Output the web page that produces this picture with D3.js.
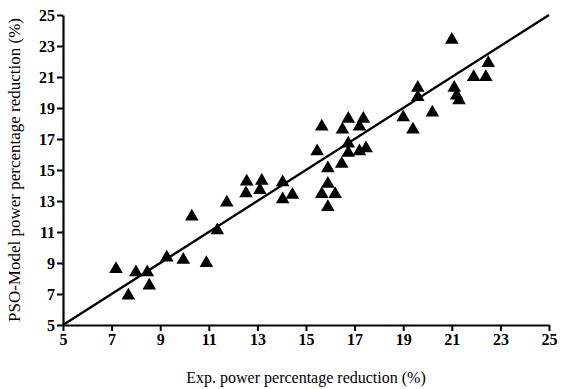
<!DOCTYPE html>
<html><head><meta charset="utf-8">
<script src="https://cdn.jsdelivr.net/npm/d3@7"></script>
<style>body{margin:0;background:#fff}svg{display:block}</style>
</head><body>
<svg id="c" width="568" height="389"></svg>
<script>
const expValues = [7.18,8.0,8.47,8.55,7.69,9.27,9.95,10.9,10.3,11.35,11.74,
  12.56,13.18,14.04,12.53,13.1,14.04,14.44,
  15.46,15.65,16.5,16.74,17.2,17.36,16.74,16.74,17.2,17.47,15.9,16.47,15.9,15.65,16.2,15.9,
  19.0,19.4,19.6,19.6,20.2,21.0,22.5,21.9,22.4,21.1,21.2,21.3];
const psoValues = [8.6,8.4,8.4,7.55,6.9,9.35,9.2,9.0,12.0,11.1,12.9,
  14.25,14.3,14.2,13.5,13.7,13.1,13.4,
  16.2,17.8,17.6,18.3,17.8,18.3,16.7,16.1,16.2,16.4,15.1,15.4,14.1,13.45,13.45,12.6,
  18.4,17.6,20.3,19.7,18.7,23.4,21.9,21.0,21.0,20.3,19.8,19.5];
const tickValues = [5,7,9,11,13,15,17,19,21,23,25];
const fitLine = [[5,5],[25,25]];

const svg = d3.select("#c");
const x = d3.scaleLinear().domain([5,25]).range([63,549]);
const y = d3.scaleLinear().domain([5,25]).range([325,15]);
const font = "'Liberation Serif','Times New Roman',serif";

const xa = svg.append("g").attr("transform","translate(0,325)")
  .call(d3.axisBottom(x).tickValues(tickValues).tickSize(6).tickPadding(3).tickSizeOuter(0));
const ya = svg.append("g").attr("transform","translate(63,0)")
  .call(d3.axisLeft(y).tickValues(tickValues).tickSize(6).tickPadding(2).tickSizeOuter(0));
[xa,ya].forEach(a=>{
  a.select(".domain").attr("stroke","#000").attr("stroke-width",2.2);
  a.selectAll(".tick line").attr("stroke","#000").attr("stroke-width",2);
  a.selectAll("text").attr("font-family",font).attr("font-size",16).attr("font-weight","bold").attr("fill","#000");
});

svg.append("path").datum(fitLine)
  .attr("d", d3.line().x(d=>x(d[0])).y(d=>y(d[1])))
  .attr("stroke","#000").attr("stroke-width",2.4).attr("fill","none");

const tri = d3.symbol().type(d3.symbolTriangle).size(80);
svg.append("g").selectAll("path").data(expValues.map((v,i)=>[v,psoValues[i]]))
  .join("path")
  .attr("d", tri)
  .attr("transform", d=>`translate(${x(d[0])},${y(d[1])})`)
  .attr("fill","#000");

svg.append("text").attr("x",306).attr("y",383).attr("text-anchor","middle")
  .attr("font-family",font).attr("font-size",16).text("Exp. power percentage reduction (%)");
svg.append("text").attr("transform","translate(20,170) rotate(-90)").attr("text-anchor","middle")
  .attr("font-family",font).attr("font-size",17).text("PSO-Model power percentage reduction (%)");
</script>
</body></html>
